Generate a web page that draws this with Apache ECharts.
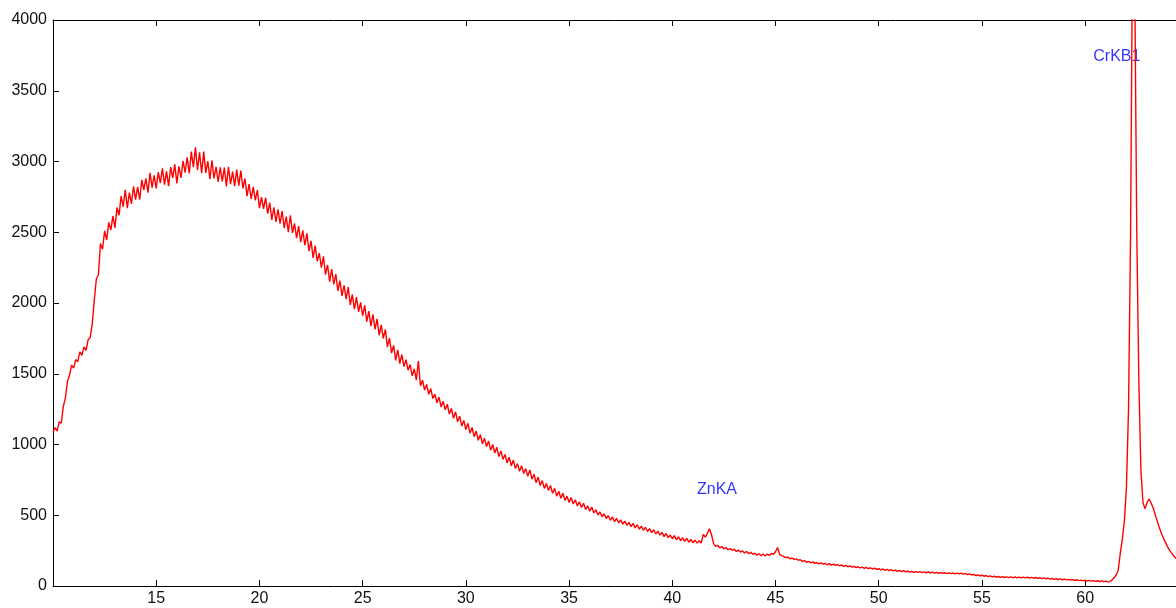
<!DOCTYPE html>
<html>
<head>
<meta charset="utf-8">
<title>Spectrum</title>
<script src="https://cdn.jsdelivr.net/npm/echarts@6/dist/echarts.min.js"></script>
<style>
  html, body { margin: 0; padding: 0; background: #ffffff; }
  #chart { width: 1176px; height: 608px; }
</style>
</head>
<body>
<div id="chart"></div>
<script>
// Spectrum counts, sampled every 0.1 units starting at 10.0
const startX = 10.0;
const stepX = 0.1;
const counts = [
  1085, 1120, 1095, 1160, 1150, 1270, 1330, 1445, 1490, 1560,
  1540, 1600, 1585, 1655, 1630, 1690, 1665, 1740, 1755, 1850,
  2020, 2170, 2200, 2420, 2380, 2510, 2445, 2570, 2515, 2615,
  2530, 2675, 2620, 2755, 2680, 2800, 2670, 2780, 2700, 2825,
  2730, 2820, 2730, 2870, 2800, 2880, 2780, 2920, 2815, 2902,
  2810, 2924, 2848, 2952, 2836, 2930, 2825, 2960, 2885, 2980,
  2845, 2965, 2885, 3005, 2922, 3030, 2915, 3070, 2960, 3100,
  2940, 3065, 2918, 3070, 2920, 3002, 2875, 3008, 2880, 2962,
  2855, 2958, 2860, 2957, 2824, 2962, 2840, 2928, 2826, 2943,
  2830, 2935, 2810, 2880, 2755, 2840, 2735, 2820, 2725, 2798,
  2670, 2748, 2666, 2744, 2632, 2710, 2588, 2676, 2574, 2662,
  2560, 2650, 2530, 2610, 2500, 2620, 2496, 2562, 2458, 2544,
  2430, 2514, 2408, 2492, 2366, 2440, 2318, 2406, 2294, 2352,
  2250, 2330, 2200, 2270, 2150, 2240, 2132, 2204, 2086, 2158,
  2050, 2124, 2028, 2112, 1986, 2060, 1956, 2042, 1938, 2004,
  1910, 1984, 1868, 1942, 1836, 1920, 1814, 1888, 1772, 1846,
  1750, 1814, 1688, 1752, 1646, 1700, 1594, 1668, 1572, 1636,
  1550, 1600, 1525, 1565, 1485, 1535, 1455, 1590, 1415, 1455,
  1385, 1425, 1355, 1395, 1325, 1355, 1295, 1335, 1265, 1305,
  1245, 1285, 1215, 1255, 1185, 1230, 1160, 1200, 1130, 1170,
  1105, 1150, 1080, 1120, 1055, 1095, 1030, 1070, 1005, 1045,
  985, 1025, 960, 1000, 940, 980, 915, 955, 895, 930,
  870, 910, 850, 890, 830, 865, 810, 850, 795, 830,
  775, 820, 755, 790, 730, 770, 710, 745, 690, 725,
  675, 710, 655, 690, 635, 670, 620, 655, 605, 635,
  590, 625, 580, 610, 565, 595, 555, 585, 540, 567,
  528, 558, 516, 538, 502, 523, 489, 511, 477, 498,
  464, 488, 455, 478, 447, 468, 437, 459, 429, 450,
  420, 443, 411, 433, 402, 423, 394, 415, 385, 405,
  377, 398, 367, 388, 359, 379, 349, 371, 342, 360,
  334, 356, 327, 348, 321, 341, 315, 336, 309, 329,
  306, 324, 303, 320, 304, 365, 345, 372, 405, 362,
  300, 280, 288, 270, 279, 262, 272, 256, 265, 252,
  260, 244, 254, 240, 248, 234, 244, 228, 238, 224,
  232, 218, 228, 214, 226, 212, 226, 216, 230, 224,
  242, 272, 222, 214, 208, 200, 204, 192, 198, 188,
  192, 182, 186, 174, 180, 168, 174, 164, 170, 160,
  166, 156, 163, 154, 160, 150, 158, 148, 155, 146,
  152, 143, 149, 139, 146, 136, 143, 133, 139, 130,
  136, 128, 134, 125, 131, 122, 129, 120, 126, 117,
  122, 114, 120, 111, 117, 109, 115, 107, 112, 104,
  110, 102, 108, 100, 106, 98, 104, 97, 102, 96,
  101, 95, 100, 93, 99, 92, 98, 91, 96, 90,
  95, 89, 94, 88, 93, 87, 92, 86, 91, 85,
  91, 84, 88, 80, 86, 78, 82, 74, 79, 71,
  76, 69, 74, 66, 72, 64, 70, 62, 67, 61,
  66, 60, 65, 59, 64, 58, 64, 58, 63, 57,
  63, 57, 62, 56, 61, 55, 60, 54, 58, 52,
  57, 51, 55, 49, 53, 47, 52, 46, 50, 44,
  49, 43, 47, 41, 45, 39, 44, 38, 42, 36,
  41, 35, 40, 34, 38, 33, 37, 32, 36, 31,
  34, 29, 31, 42, 58, 78, 110, 230, 330, 460,
  700, 1250, 2500, 4700, 4300, 2500, 1450, 820, 590, 545,
  590, 615, 585, 550, 500, 455, 410, 370, 335, 305,
  275, 250, 230, 210, 195
];

// Peak annotations: [position, height, name]
const peakLabels = [
  [41.17, 684, 'ZnKA'],
  [60.37, 3740, 'CrKB1']
];

// Axis ranges and tick spacing
const xMin = 10, xMax = 64.4, xStep = 5;
const yMin = 0, yMax = 4000, yStep = 500;

const spectrum = counts.map((c, i) => [+(startX + i * stepX).toFixed(2), c]);

const chart = echarts.init(document.getElementById('chart'), null, { renderer: 'canvas' });

const fontFamily = 'Liberation Sans, Arial, sans-serif';
const plain = v => String(v);
const axisLine = { show: true, onZero: false, lineStyle: { color: '#000', width: 1 } };
const tick = { show: true, inside: true, length: 6, lineStyle: { color: '#000', width: 1 } };

chart.setOption({
  animation: false,
  backgroundColor: '#ffffff',
  grid: { left: 53, right: 0, top: 20, bottom: 22, containLabel: false },
  xAxis: [
    {
      type: 'value', position: 'bottom', min: xMin, max: xMax, interval: xStep,
      axisLine: axisLine,
      axisTick: tick,
      axisLabel: { margin: 5, showMinLabel: false, showMaxLabel: false, formatter: plain,
                   fontFamily: fontFamily, fontSize: 16, color: '#111' },
      splitLine: { show: false }
    },
    {
      type: 'value', position: 'top', min: xMin, max: xMax, interval: xStep,
      axisLine: axisLine,
      axisTick: tick,
      axisLabel: { show: false },
      splitLine: { show: false }
    }
  ],
  yAxis: {
    type: 'value', min: yMin, max: yMax, interval: yStep,
    axisLine: axisLine,
    axisTick: tick,
    axisLabel: { margin: 6, formatter: plain, fontFamily: fontFamily, fontSize: 16, color: '#111' },
    splitLine: { show: false }
  },
  series: [
    {
      type: 'line',
      data: spectrum,
      showSymbol: false,
      clip: true,
      lineStyle: { color: '#ff0000', width: 1.4 },
      itemStyle: { color: '#ff0000' }
    },
    {
      type: 'scatter',
      data: peakLabels.map(p => ({ value: [p[0], p[1]], name: p[2] })),
      symbolSize: 1,
      itemStyle: { color: 'rgba(0,0,0,0)' },
      label: {
        show: true, position: 'right', distance: 0,
        formatter: p => p.name,
        color: '#0000ff', fontSize: 16, fontFamily: fontFamily
      }
    }
  ]
});
</script>
</body>
</html>
